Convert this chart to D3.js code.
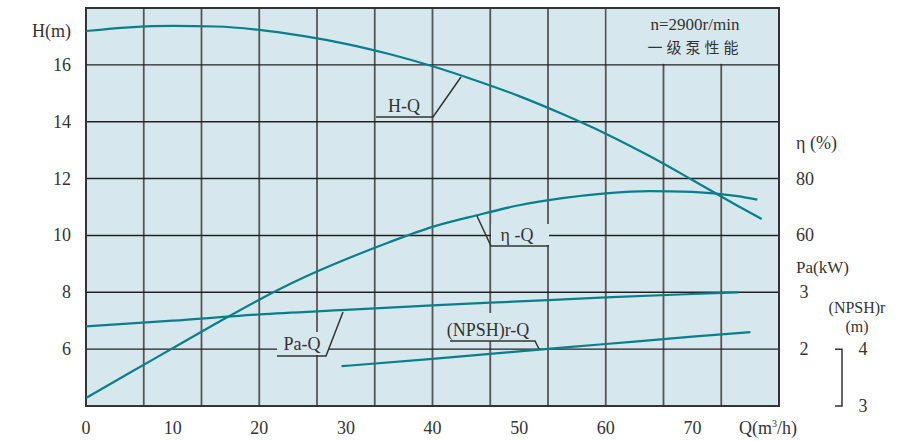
<!DOCTYPE html>
<html>
<head>
<meta charset="utf-8">
<script src="https://cdn.jsdelivr.net/npm/d3@7"></script>
<style>
  body { margin: 0; background: #fff; }
</style>
</head>
<body>
<svg id="chart"></svg>
<script>
// flow Q (m3/h) and the four curves
const qH = [0, 5, 10, 15, 20, 25, 30, 35, 40, 45, 50, 55, 60, 65, 70, 75, 78];
const hVals = [17.19, 17.32, 17.37, 17.35, 17.23, 17.02, 16.74, 16.38, 15.95, 15.45, 14.9, 14.27, 13.58, 12.8, 11.95, 11.08, 10.58];

const qEta = [0, 5, 10, 15, 20, 25, 30, 35, 40, 45, 50, 55, 60, 65, 70, 75, 77.5];
const etaVals = [2.8, 11.6, 20.3, 29.0, 37.4, 45.0, 51.6, 57.6, 63, 67, 70.6, 73.1, 74.8, 75.6, 75.3, 73.9, 72.6];

const qPa = [0, 10, 20, 30, 40, 50, 60, 70, 75.3];
const paVals = [2.40, 2.50, 2.61, 2.69, 2.77, 2.84, 2.91, 2.97, 3.0];

const qNpsh = [29.5, 40, 50, 60, 70, 76.7];
const npshVals = [3.70, 3.83, 3.96, 4.09, 4.22, 4.30];

const qTicks = [0, 10, 20, 30, 40, 50, 60, 70];
const hTicks = [6, 8, 10, 12, 14, 16];
const etaTicks = [60, 80];
const paTicks = [2, 3];
const npshTicks = [3, 4];

const W = 906, H = 441;
const pLeft = 86, pRight = 779, pTop = 8, pBottom = 406;
const bg = '#d6e8ee', teal = '#0a7f8c';
const serif = '"Liberation Serif", "Times New Roman", "DejaVu Serif", serif';

const svg = d3.select('#chart')
  .attr('width', W).attr('height', H)
  .attr('font-family', serif)
  .attr('fill', '#333');

const x = d3.scaleLinear().domain([0, 80]).range([pLeft, pRight]);
const yH = d3.scaleLinear().domain([4, 18]).range([pBottom, pTop]);
const yEta = d3.scaleLinear().domain([0, 140]).range([pBottom, pTop]);
const yPa = d3.scaleLinear().domain([1, 8]).range([pBottom, pTop]);
const yNpsh = d3.scaleLinear().domain([3, 10]).range([pBottom, pTop]);
// the grid has 12 columns, not tied to Q ticks
const gx = d3.scaleLinear().domain([0, 12]).range([pLeft, pRight]);

svg.append('rect')
  .attr('x', pLeft).attr('y', pTop)
  .attr('width', pRight - pLeft).attr('height', pBottom - pTop)
  .attr('fill', bg);

const grid = svg.append('g');
grid.selectAll('line.v')
  .data(d3.range(1, 12))
  .join('line')
  .attr('x1', d => gx(d)).attr('x2', d => gx(d))
  .attr('y1', pTop).attr('y2', pBottom)
  .attr('stroke', '#555').attr('stroke-width', 1.8);
grid.selectAll('line.h')
  .data(d3.range(6, 18, 2))
  .join('line')
  .attr('x1', pLeft).attr('x2', pRight)
  .attr('y1', d => yH(d)).attr('y2', d => yH(d))
  .attr('stroke', '#222').attr('stroke-width', 1.4);

// top right info cell
svg.append('rect')
  .attr('x', gx(9) + 1).attr('y', pTop + 1)
  .attr('width', gx(12) - gx(9) - 2).attr('height', yH(16) - pTop - 2)
  .attr('fill', bg);
svg.append('text')
  .attr('x', 695).attr('y', 30)
  .attr('text-anchor', 'middle')
  .style('font-size', '17px')
  .text('n=2900r/min');
svg.append('text')
  .attr('x', 695).attr('y', 53)
  .attr('text-anchor', 'middle')
  .attr('font-family', '"Noto Sans CJK SC", sans-serif')
  .style('font-size', '15px')
  .style('letter-spacing', '4px')
  .text('一级泵性能');

// label backgrounds hide the grid behind them
const boxes = [[491, 224, 58, 21], [277, 332, 52, 23], [440, 313, 97, 28]];
svg.selectAll('rect.box')
  .data(boxes)
  .join('rect')
  .attr('x', d => d[0]).attr('y', d => d[1])
  .attr('width', d => d[2]).attr('height', d => d[3])
  .attr('fill', bg);

svg.append('rect')
  .attr('x', pLeft).attr('y', pTop)
  .attr('width', pRight - pLeft).attr('height', pBottom - pTop)
  .attr('fill', 'none').attr('stroke', '#333').attr('stroke-width', 2);

// curves
const curves = [
  [qH, hVals, yH],
  [qEta, etaVals, yEta],
  [qPa, paVals, yPa],
  [qNpsh, npshVals, yNpsh]
];
curves.forEach(([qs, vs, yS]) => {
  const line = d3.line()
    .x(d => x(d[0]))
    .y(d => yS(d[1]))
    .curve(d3.curveMonotoneX);
  svg.append('path')
    .datum(qs.map((q, i) => [q, vs[i]]))
    .attr('d', line)
    .attr('fill', 'none')
    .attr('stroke', teal)
    .attr('stroke-width', 2.2);
});

// curve labels with leader lines
const leaders = [
  [[376, 117], [433, 117], [461, 77]],
  [[477, 216], [491, 246], [549, 246]],
  [[277, 356], [326, 356], [343, 312]],
  [[450, 341], [535, 341], [539, 349]]
];
leaders.forEach(pts => {
  svg.append('path')
    .attr('d', d3.line()(pts))
    .attr('fill', 'none')
    .attr('stroke', '#333')
    .attr('stroke-width', 1.5);
});
const labels = [['H-Q', 404, 112], ['η -Q', 517, 241], ['Pa-Q', 302, 350], ['(NPSH)r-Q', 488, 336]];
svg.selectAll('text.lbl')
  .data(labels)
  .join('text')
  .attr('x', d => d[1]).attr('y', d => d[2])
  .attr('text-anchor', 'middle')
  .style('font-size', '18px')
  .text(d => d[0]);

// left H axis
svg.selectAll('text.ht')
  .data(hTicks)
  .join('text')
  .attr('x', 71).attr('y', d => yH(d) + 6)
  .attr('text-anchor', 'end')
  .style('font-size', '18px')
  .text(d => d);
svg.append('text')
  .attr('x', 71).attr('y', 37)
  .attr('text-anchor', 'end')
  .style('font-size', '18px')
  .text('H(m)');

// bottom Q axis
svg.selectAll('text.qt')
  .data(qTicks)
  .join('text')
  .attr('x', d => x(d)).attr('y', 434)
  .attr('text-anchor', 'middle')
  .style('font-size', '18px')
  .text(d => d);
const qLab = svg.append('text')
  .attr('x', 739).attr('y', 434)
  .style('font-size', '18px');
qLab.append('tspan').text('Q(m');
qLab.append('tspan').attr('dy', -7).style('font-size', '10px').text('3');
qLab.append('tspan').attr('dy', 7).text('/h)');

// right side axes
svg.append('text')
  .attr('x', 796).attr('y', 149)
  .style('font-size', '18px')
  .text('η (%)');
svg.selectAll('text.et')
  .data(etaTicks)
  .join('text')
  .attr('x', 796).attr('y', d => yEta(d) + 6)
  .style('font-size', '18px')
  .text(d => d);
svg.append('text')
  .attr('x', 796).attr('y', 273)
  .style('font-size', '17px')
  .text('Pa(kW)');
svg.selectAll('text.pt')
  .data(paTicks)
  .join('text')
  .attr('x', 804).attr('y', d => yPa(d) + 6)
  .attr('text-anchor', 'middle')
  .style('font-size', '18px')
  .text(d => d);
svg.append('text')
  .attr('x', 857).attr('y', 313)
  .attr('text-anchor', 'middle')
  .style('font-size', '16px')
  .text('(NPSH)r');
svg.append('text')
  .attr('x', 857).attr('y', 332)
  .attr('text-anchor', 'middle')
  .style('font-size', '16px')
  .text('(m)');
svg.append('path')
  .attr('d', `M835,${yNpsh(4)}H842V${yNpsh(3)}H835`)
  .attr('fill', 'none')
  .attr('stroke', '#333')
  .attr('stroke-width', 1.5);
svg.selectAll('text.nt')
  .data(npshTicks)
  .join('text')
  .attr('x', 863).attr('y', d => yNpsh(d) + 6)
  .attr('text-anchor', 'middle')
  .style('font-size', '18px')
  .text(d => d);
</script>
</body>
</html>
